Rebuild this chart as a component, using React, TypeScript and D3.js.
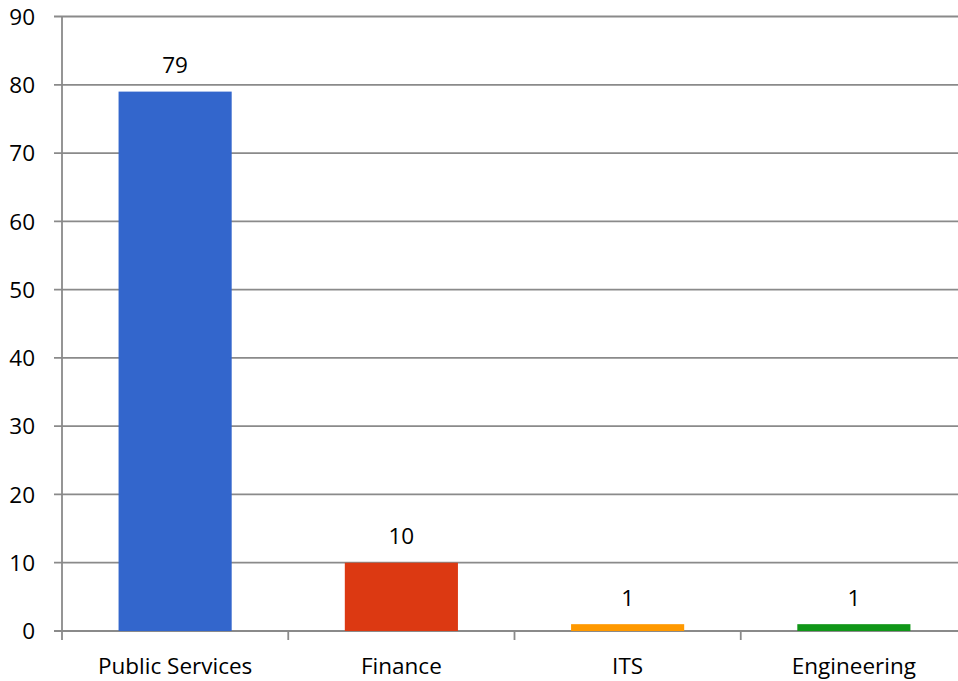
import React from "react";
import * as d3 from "d3";

const categories = ["Public Services", "Finance", "ITS", "Engineering"];
const values = [79, 10, 1, 1];
const colors = ["#3366CC", "#DC3912", "#FF9900", "#109618"];
const yTicks = [0, 10, 20, 30, 40, 50, 60, 70, 80, 90];

export default function App() {
  const W = 958, H = 681;
  const left = 62, right = 967, top = 16.5, bottom = 631;
  const x = d3.scaleBand<string>().domain(categories).range([left, right]).paddingInner(0.5).paddingOuter(0.25);
  const xb = d3.scaleBand<string>().domain(categories).range([left, right]);
  const y = d3.scaleLinear().domain([0, 90]).range([bottom, top]);
  const font = "'Open Sans', sans-serif";
  const grid = "#8a8a8a";
  const fs = 22.5;
  return (
    <svg width={W} height={H} style={{ position: "absolute", left: 0, top: 0, background: "#fff" }} fontFamily={font}>
      {yTicks.map((t) => (
        <g key={t}>
          <line x1={54} x2={right} y1={y(t)} y2={y(t)} stroke={grid} strokeWidth={1.8} />
          <text x={35} y={y(t) + 8.2} textAnchor="end" fontSize={fs} fill="#000">{t}</text>
        </g>
      ))}
      <line x1={left} x2={left} y1={top} y2={bottom + 9} stroke={grid} strokeWidth={1.8} />
      {categories.map((c, i) => (
        <line key={"t" + i} x1={xb(c)! + xb.bandwidth()} x2={xb(c)! + xb.bandwidth()} y1={bottom} y2={bottom + 9} stroke={grid} strokeWidth={1.8} />
      ))}
      {categories.map((c, i) => (
        <g key={c}>
          <rect x={x(c)} y={y(values[i])} width={x.bandwidth()} height={bottom - y(values[i])} fill={colors[i]} />
          <text x={x(c)! + x.bandwidth() / 2} y={y(values[i]) - 18.3} textAnchor="middle" fontSize={fs} fill="#000">{values[i]}</text>
          <text x={x(c)! + x.bandwidth() / 2} y={674} textAnchor="middle" fontSize={fs} fill="#000">{c}</text>
        </g>
      ))}
    </svg>
  );
}
